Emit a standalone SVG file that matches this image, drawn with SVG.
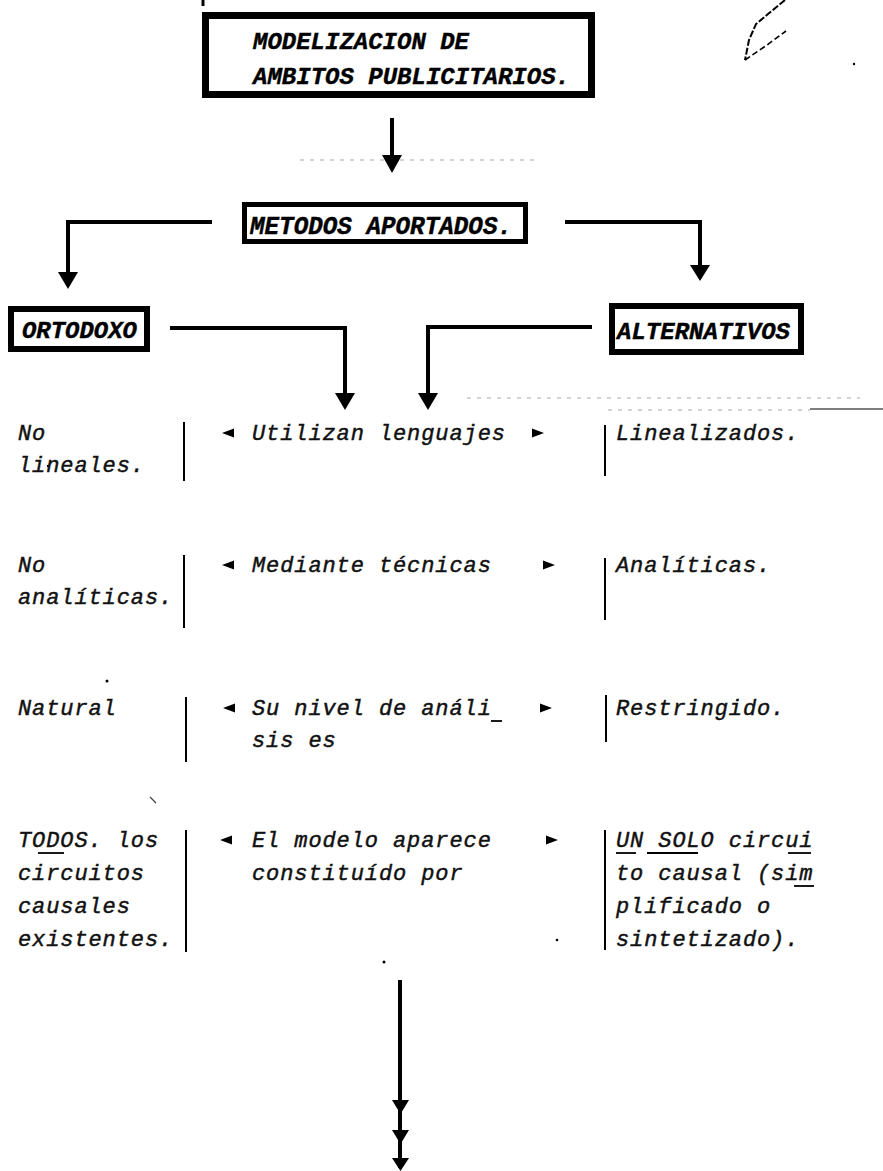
<svg xmlns="http://www.w3.org/2000/svg" width="883" height="1171" viewBox="0 0 883 1171">
  <style>
    .box { fill: #fff; stroke: #000; }
    .ttl { font-family: "Liberation Mono", "DejaVu Sans Mono", monospace; font-weight: bold; font-style: italic; fill: #000; stroke: #000; stroke-width: 0.4; }
    .txt { font-family: "Liberation Mono", "DejaVu Sans Mono", monospace; font-style: italic; font-size: 22px; letter-spacing: 0.9px; fill: #111; stroke: #111; stroke-width: 0.45; }
    .conn { fill: none; stroke: #000; stroke-width: 4; stroke-linejoin: miter; }
    .head { fill: #000; }
    .rule { stroke: #000; stroke-width: 2; }
    .uline { stroke: #000; stroke-width: 1.8; }
    .faint { stroke: #aaa; stroke-width: 1.2; stroke-dasharray: 4 6; fill: none; }
  </style>
  <defs>
    <polygon id="tri-l" points="0,0 12,-4.5 12,4.5" fill="#000"/>
    <polygon id="tri-r" points="12,0 0,-4.5 0,4.5" fill="#000"/>
  </defs>

  <rect width="883" height="1171" fill="#fff"/>

  <!-- loose marks on the sheet -->
  <g id="marks">
    <line x1="203" y1="0" x2="203" y2="6" stroke="#000" stroke-width="3"/>
    <path d="M785,0 L768,14 L756,24 L749,40 L745,60" fill="none" stroke="#000" stroke-width="2" stroke-dasharray="7 2"/>
    <path d="M745,60 L767,45 L786,31" fill="none" stroke="#000" stroke-width="1.6" stroke-dasharray="6 3"/>
    <circle cx="854" cy="64" r="1.2" fill="#000"/>
    <line x1="300" y1="160" x2="540" y2="160" class="faint"/>
    <line x1="467" y1="398" x2="860" y2="398" class="faint"/>
    <line x1="608" y1="410" x2="810" y2="410" class="faint"/>
    <line x1="810" y1="409" x2="883" y2="409" stroke="#555" stroke-width="1.5"/>
    <circle cx="48" cy="466" r="1.2" fill="#000"/>
    <circle cx="107" cy="681" r="1.5" fill="#000"/>
    <path d="M150,797 L156,803" stroke="#444" stroke-width="1.2"/>
    <circle cx="384" cy="962" r="1.5" fill="#000"/>
    <circle cx="557" cy="940" r="1.3" fill="#000"/>
  </g>

  <!-- connectors -->
  <g id="connectors">
    <line x1="392" y1="118" x2="392" y2="157" class="conn"/>
    <polygon class="head" points="382,155 402,155 392,173"/>

    <polyline points="212,222 68,222 68,274" class="conn"/>
    <polygon class="head" points="58,272 78,272 68,289"/>

    <polyline points="565,222 700,222 700,267" class="conn"/>
    <polygon class="head" points="690,265 710,265 700,281"/>

    <polyline points="170,328 345,328 345,395" class="conn"/>
    <polygon class="head" points="335,393 355,393 345,410"/>

    <polyline points="592,327 428,327 428,395" class="conn"/>
    <polygon class="head" points="418,393 438,393 428,410"/>

    <line x1="400" y1="980" x2="400" y2="1168" class="conn"/>
    <polygon class="head" points="392,1100 409,1100 400.5,1114"/>
    <polygon class="head" points="392,1130 409,1130 400.5,1144"/>
    <polygon class="head" points="392,1158 409,1158 400.5,1171"/>
  </g>

  <!-- boxed headings -->
  <g id="node-modelizacion">
    <rect class="box" x="205.5" y="15.5" width="386" height="79" stroke-width="7"/>
    <text class="ttl" x="253" y="49" font-size="24" textLength="216" lengthAdjust="spacingAndGlyphs">MODELIZACION DE</text>
    <text class="ttl" x="253" y="84" font-size="24" textLength="317" lengthAdjust="spacingAndGlyphs">AMBITOS PUBLICITARIOS.</text>
  </g>

  <g id="node-metodos">
    <rect class="box" x="244.5" y="204.5" width="281" height="37" stroke-width="5"/>
    <text class="ttl" x="250" y="234" font-size="25" textLength="262" lengthAdjust="spacingAndGlyphs">METODOS APORTADOS.</text>
  </g>

  <g id="node-ortodoxo">
    <rect class="box" x="11" y="309" width="136" height="40" stroke-width="6"/>
    <text class="ttl" x="22" y="338" font-size="23" textLength="115" lengthAdjust="spacingAndGlyphs">ORTODOXO</text>
  </g>

  <g id="node-alternativos">
    <rect class="box" x="612" y="306" width="189" height="46" stroke-width="6"/>
    <text class="ttl" x="617" y="339" font-size="23" textLength="173" lengthAdjust="spacingAndGlyphs">ALTERNATIVOS</text>
  </g>

  <!-- comparison rows: left column | ◄ criterion ► | right column -->
  <g id="row-lenguajes">
    <text class="txt" x="18" y="440">No</text>
    <text class="txt" x="18" y="472">lineales.</text>
    <line class="rule" x1="184" y1="422" x2="184" y2="481"/>
    <use href="#tri-l" x="222" y="433"/>
    <text class="txt" x="252" y="440">Utilizan lenguajes</text>
    <use href="#tri-r" x="532" y="433"/>
    <line class="rule" x1="605" y1="425" x2="605" y2="476"/>
    <text class="txt" x="616" y="440">Linealizados.</text>
  </g>

  <g id="row-tecnicas">
    <text class="txt" x="18" y="572">No</text>
    <text class="txt" x="18" y="604">analíticas.</text>
    <line class="rule" x1="184" y1="555" x2="184" y2="628"/>
    <use href="#tri-l" x="222" y="565"/>
    <text class="txt" x="252" y="572">Mediante técnicas</text>
    <use href="#tri-r" x="543" y="565"/>
    <line class="rule" x1="605" y1="558" x2="605" y2="620"/>
    <text class="txt" x="616" y="572">Analíticas.</text>
  </g>

  <g id="row-nivel">
    <text class="txt" x="18" y="715">Natural</text>
    <line class="rule" x1="186" y1="697" x2="186" y2="762"/>
    <use href="#tri-l" x="223" y="708"/>
    <text class="txt" x="252" y="715">Su nivel de análi</text>
    <line class="uline" x1="491" y1="721" x2="502" y2="721"/>
    <text class="txt" x="252" y="747">sis es</text>
    <use href="#tri-r" x="540" y="708"/>
    <line class="rule" x1="606" y1="695" x2="606" y2="742"/>
    <text class="txt" x="616" y="715">Restringido.</text>
  </g>

  <g id="row-modelo">
    <text class="txt" x="18" y="847">TODOS. los</text>
    <line class="uline" x1="38" y1="853" x2="64" y2="853"/>
    <text class="txt" x="18" y="880">circuitos</text>
    <text class="txt" x="18" y="913">causales</text>
    <text class="txt" x="18" y="946">existentes.</text>
    <line class="rule" x1="186" y1="830" x2="186" y2="952"/>
    <use href="#tri-l" x="220" y="840"/>
    <text class="txt" x="252" y="847">El modelo aparece</text>
    <text class="txt" x="252" y="880">constituído por</text>
    <use href="#tri-r" x="546" y="840"/>
    <line class="rule" x1="605" y1="830" x2="605" y2="950"/>
    <text class="txt" x="616" y="847">UN SOLO circui</text>
    <line class="uline" x1="616" y1="853" x2="636" y2="853"/>
    <line class="uline" x1="647" y1="853" x2="698" y2="853"/>
    <line class="uline" x1="788" y1="853" x2="811" y2="853"/>
    <text class="txt" x="616" y="880">to causal (sim</text>
    <line class="uline" x1="794" y1="886" x2="814" y2="886"/>
    <text class="txt" x="616" y="913">plificado o</text>
    <text class="txt" x="616" y="946">sintetizado).</text>
  </g>
</svg>
